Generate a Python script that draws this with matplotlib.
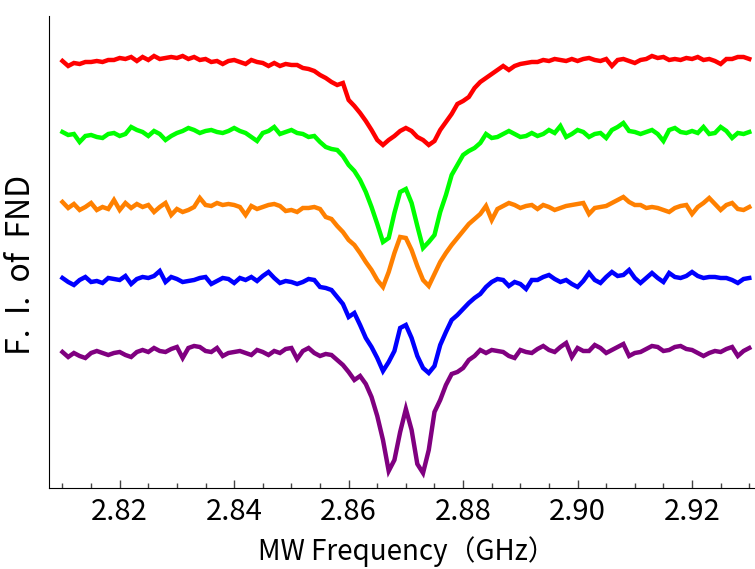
import numpy as np
import matplotlib
matplotlib.use("Agg")
import matplotlib.pyplot as plt

plt.rcParams['font.family'] = ['Noto Sans CJK JP', 'DejaVu Sans']

# MW frequency (GHz), 1 MHz steps from 2.810 to 2.930
freq = np.round(np.arange(2.810, 2.9305, 0.001), 3)

# fluorescence intensity (a.u.)
fi_red = [1000, 995, 998, 997, 999, 999, 1000, 999, 1001, 1001,
          1003, 1002, 1004, 1000, 1004, 1001, 1005, 1002, 1003, 1004,
          1003, 1005, 1002, 1004, 1001, 1002, 999, 1000, 997, 1000,
          1001, 999, 997, 1001, 999, 998, 995, 998, 995, 997,
          996, 996, 993, 992, 990, 986, 983, 979, 976, 978,
          961, 955, 948, 940, 931, 921, 916, 921, 925, 930,
          933, 930, 924, 921, 916, 920, 931, 939, 947, 957,
          960, 964, 973, 979, 983, 987, 991, 995, 991, 995,
          997, 998, 999, 999, 1001, 1000, 1002, 1001, 1000, 1002,
          1000, 1002, 1003, 1001, 1000, 1002, 995, 1001, 1002, 1000,
          998, 1001, 1002, 1005, 1003, 1004, 1001, 1002, 1001, 1003,
          1002, 1004, 1001, 1002, 1000, 997, 1002, 1002, 1004, 1004,
          1002]
fi_green = [1000, 997, 998, 990, 996, 997, 995, 994, 998, 999,
            996, 998, 1005, 1002, 1000, 996, 1001, 998, 992, 996,
            999, 1001, 1004, 1002, 999, 1001, 1002, 1000, 999, 1001,
            1004, 1001, 999, 995, 991, 999, 1001, 1005, 998, 1000,
            1002, 999, 998, 995, 996, 990, 985, 983, 982, 976,
            967, 961, 952, 940, 925, 908, 890, 894, 919, 940,
            943, 929, 906, 884, 890, 897, 920, 937, 957, 967,
            977, 981, 984, 989, 998, 994, 995, 998, 1001, 998,
            995, 996, 999, 996, 998, 1002, 999, 1006, 995, 998,
            1002, 1000, 995, 998, 999, 994, 1002, 1005, 1009, 1001,
            1000, 998, 1000, 1002, 998, 991, 1002, 1004, 1000, 999,
            1001, 999, 1005, 998, 999, 1005, 1001, 994, 999, 998,
            1000]
fi_orange = [1005, 999, 1003, 997, 1000, 1004, 997, 1000, 998, 1007,
             997, 1004, 999, 1003, 1000, 1002, 995, 1000, 1004, 992,
             998, 995, 997, 1000, 1009, 1002, 1001, 1004, 1002, 1003,
             1002, 1000, 992, 1001, 998, 1000, 1002, 1003, 1001, 996,
             997, 995, 999, 999, 1000, 998, 990, 988, 981, 975,
             967, 962, 954, 945, 937, 927, 920, 935, 954, 970,
             969, 957, 941, 927, 921, 933, 945, 954, 962, 969,
             976, 983, 988, 993, 1001, 987, 998, 1001, 1004, 1002,
             999, 1001, 1002, 998, 1002, 1000, 997, 999, 1001, 1002,
             1003, 1004, 993, 999, 1000, 1001, 1004, 1007, 1010, 1005,
             1002, 1002, 999, 1000, 999, 997, 995, 999, 1001, 1002,
             993, 1000, 1004, 1009, 1003, 997, 1002, 1004, 998, 997,
             1000]
fi_blue = [1002, 998, 995, 1000, 1003, 998, 999, 997, 1002, 1001,
           1000, 1004, 996, 1001, 1003, 1002, 1004, 1009, 998, 1003,
           1001, 998, 999, 1000, 1002, 1003, 996, 999, 1002, 1001,
           997, 1002, 1000, 1003, 999, 1004, 1008, 1002, 997, 999,
           998, 996, 998, 1001, 1000, 993, 992, 990, 983, 976,
           963, 967, 955, 942, 933, 922, 909, 918, 929, 952,
           955, 942, 924, 912, 907, 914, 935, 948, 960, 965,
           971, 977, 982, 986, 993, 998, 1001, 1000, 994, 998,
           996, 991, 1000, 1000, 1003, 1005, 1001, 998, 1000, 996,
           993, 999, 1007, 1000, 997, 1003, 1008, 1004, 1005, 1010,
           1002, 997, 1002, 1007, 1002, 998, 1007, 1003, 1002, 1004,
           1008, 1004, 1002, 1003, 1003, 1002, 1002, 1000, 997, 1001,
           1002]
fi_purple = [1000, 995, 999, 996, 994, 999, 1001, 999, 997, 999,
             1000, 997, 995, 1000, 1002, 1000, 1004, 1001, 1000, 1003,
             1005, 994, 1004, 1006, 1005, 1001, 1000, 1004, 996, 999,
             1000, 1001, 999, 997, 1002, 1000, 997, 1001, 999, 1003,
             1004, 993, 1001, 1004, 999, 996, 998, 997, 992, 987,
             980, 972, 976, 968, 955, 936, 912, 881, 892, 920,
             943, 922, 888, 879, 902, 940, 952, 967, 978, 980,
             984, 992, 996, 1002, 999, 1002, 1001, 1000, 996, 994,
             1002, 1000, 999, 1003, 1006, 1002, 1000, 1005, 1009, 995,
             1004, 1001, 1001, 1007, 1004, 999, 1002, 1005, 1008, 996,
             999, 1000, 1003, 1006, 1005, 1001, 1002, 1005, 1006, 1003,
             1002, 999, 996, 999, 1001, 1000, 1003, 1005, 996, 1001,
             1004]

traces = [fi_red, fi_green, fi_orange, fi_blue, fi_purple]
colors = ['#ff0000', '#00ff00', '#ff8000', '#0000ff', '#800080']
shifts = [0, 71, 146, 219, 291]   # vertical stacking of the spectra

fig = plt.figure(figsize=(7.55, 5.69), dpi=100)
ax = fig.add_axes([0.0653, 0.1429, 0.9347, 0.829])

for fi, c, s in zip(traces, colors, shifts):
    ax.plot(freq, np.array(fi) - s, color=c, lw=3.2, solid_joinstyle='miter')

ax.set_xlim(2.8077, 2.931)
ax.set_ylim(573.3, 1045)

ax.spines['top'].set_visible(False)
ax.spines['right'].set_visible(False)
ax.set_yticks([])
ax.set_xticks([2.82, 2.84, 2.86, 2.88, 2.90, 2.92])
ax.set_xticklabels(['2.82', '2.84', '2.86', '2.88', '2.90', '2.92'])
ax.set_xticks(np.arange(2.81, 2.931, 0.005), minor=True)
ax.tick_params(axis='x', which='major', direction='in', length=6, width=1,
               labelsize=21, pad=7, color='#444444')
ax.tick_params(axis='x', which='minor', direction='in', length=3.5, width=1,
               color='#444444')

ax.set_xlabel('MW Frequency（GHz）', fontsize=20)
ax.xaxis.set_label_coords(0.507, -0.102)
ax.set_ylabel('F.  I.  of  FND', fontsize=23)
ax.yaxis.set_label_coords(-0.017, 0.472)

fig.savefig('out.png', dpi=100)
